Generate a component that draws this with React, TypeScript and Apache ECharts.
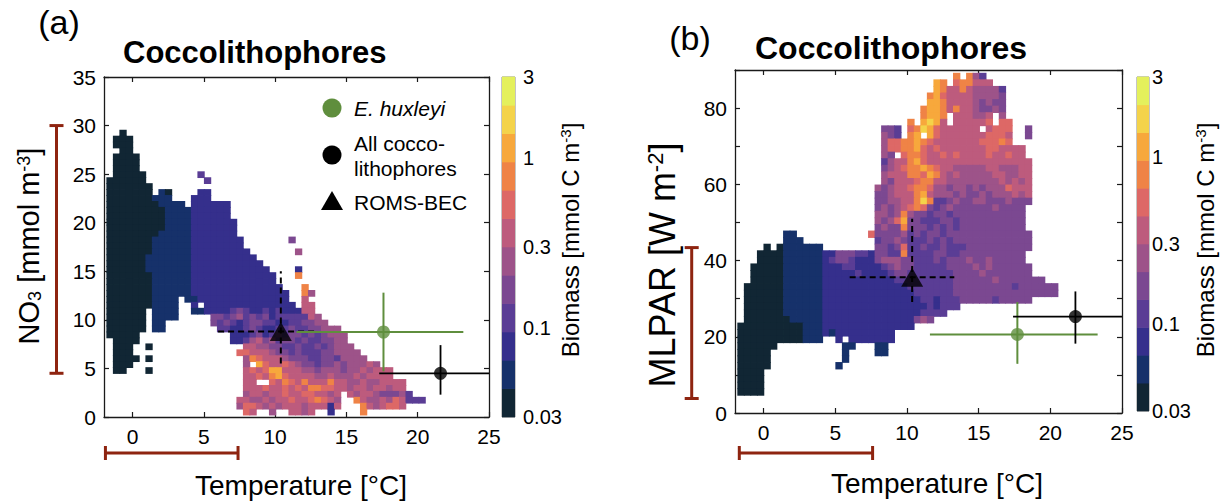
import React, { useEffect, useRef } from "react";
import * as echarts from "echarts";

// ---------- colour scale: 12 log-spaced biomass levels (0.03 – 3 mmol C m-3)
const LEVEL_COLORS = [
  "#112634", "#16316a", "#352f8c", "#5a3d95", "#7b4891", "#9d5389",
  "#bd5b7d", "#dd6866", "#ef8346", "#f7a83c", "#f4d34a", "#e4f05c",
];
const CB_TICKS = [0.03, 0.1, 0.3, 1, 3];
const CB_LEVELS = 12;
// cell character -> colour level
const CHAR_LEVEL: Record<string, number> = {
  "0": 0, "1": 1, "2": 2, "3": 3, "4": 4, "5": 5, "6": 6, "7": 6, "8": 7, "9": 8, a: 9, b: 10,
};

// ---------- axis ticks
const X_TICKS = [0, 5, 10, 15, 20, 25];
const B_Y_LABELS = [0, 20, 40, 60, 80];

// ---------- heat-map bins
const A_T0 = -1.805, A_DT = 0.456, A_N0 = 0.2, A_DN = 0.611;
const B_T0 = -1.81, B_DT = 0.456, B_P0 = 4.64, B_DP = 1.725;

// panel (a): [row, [[startColumn, cells]]]  ('.' = no data)
const A_ROWS: [number, [number, string][]][] = [
  [47, [[2, "0"]]],
  [46, [[1, "000"]]],
  [45, [[1, "000"]]],
  [44, [[2, "00"]]],
  [43, [[1, "0000"]]],
  [42, [[1, "0000"]]],
  [41, [[1, "0000"]]],
  [40, [[1, "00000"], [14, "3"]]],
  [39, [[0, "000000"], [15, "3"]]],
  [38, [[0, "0000000"]]],
  [37, [[0, "0000000"], [8, "10"], [14, "22"]]],
  [36, [[0, "0000000"], [7, "111"], [13, "222"]]],
  [35, [[0, "00000000"], [8, "1111"], [13, "222222"]]],
  [34, [[0, "000000000"], [9, "1111"], [13, "222222"]]],
  [33, [[0, "000000000"], [9, "1111"], [13, "222222"]]],
  [32, [[0, "000000000"], [9, "1111"], [13, "2222222"]]],
  [31, [[0, "000000000"], [9, "1111"], [13, "2222222"]]],
  [30, [[0, "00000000"], [8, "11111"], [13, "2222222"]]],
  [29, [[0, "0000000"], [7, "111111"], [13, "22222222"], [28, "4"]]],
  [28, [[0, "0000000"], [7, "111111"], [13, "22222222"]]],
  [27, [[0, "0000000"], [7, "111111"], [13, "222222222"], [29, "5"]]],
  [26, [[0, "000000"], [6, "1111111"], [13, "2222222222"]]],
  [25, [[0, "000000"], [6, "1111111"], [13, "22222222222"]]],
  [24, [[0, "000000"], [6, "1111111"], [13, "222222222222"], [29, "2"]]],
  [23, [[0, "0000000"], [7, "111111"], [13, "2222222222222"], [29, "9"]]],
  [22, [[0, "0000000"], [7, "111111"], [13, "2222222222222"]]],
  [21, [[0, "0000000"], [7, "111111"], [13, "22222222222222"], [30, "9"]]],
  [20, [[0, "0000000"], [7, "111111"], [13, "222222222222222"], [30, "95"]]],
  [19, [[0, "0000000"], [7, "1111"], [12, "11"], [14, "22222222222222"], [30, "7"]]],
  [18, [[0, "0000000"], [7, "1111"], [13, "2"], [15, "22222222222222"], [30, "77"]]],
  [17, [[0, "000000"], [7, "1111"], [13, "11"], [15, "2222"], [19, "34322323222"], [30, "77"]]],
  [16, [[0, "000000"], [7, "1111"], [16, "443"], [19, "4534342333336"], [32, "5"]]],
  [15, [[0, "000000"], [7, "11"], [16, "434"], [19, "323443322334455"]]],
  [14, [[0, "000000"], [7, "11"], [17, "3322343223343344555"]]],
  [13, [[0, "00000"], [19, "222342343443434555"]]],
  [12, [[1, "0000"], [19, "223564534434334455"]]],
  [11, [[1, "000"], [6, "0"], [21, "76554433433434555"]]],
  [10, [[1, "000"], [20, "8876654434333445555"]]],
  [9, [[1, "0000"], [6, "0"], [21, "5986765444334435555"]]],
  [8, [[1, "000"], [21, "5.a876865443445455565"]]],
  [7, [[1, "00"], [6, "0"], [21, "7878aa76755455545565666"]]],
  [6, [[21, "67879a87676556555656666"]]],
  [5, [[21, "76..879879676966556556666"]]],
  [4, [[21, "6778678687998876566566567"]]],
  [3, [[21, "566576876887756.6566544453"]]],
  [2, [[20, "7655657686789865..96556586333"]]],
  [1, [[20, "5886565676567626...9656886"]]],
  [0, [[21, "87..5..6656..2....9"]]],
];

// panel (b)
const B_ROWS: [number, [number, string][]][] = [
  [48, [[33, "9.953"]]],
  [47, [[30, "a9.899666"]]],
  [46, [[30, "a9769755553"]]],
  [45, [[29, "9a8676655554"]]],
  [44, [[29, "aa9677754544"]]],
  [43, [[28, "9aa9697654454"]]],
  [42, [[28, "9aa9.676556.5"]]],
  [41, [[26, "9.aba7.677668.88"]]],
  [40, [[22, "443.89ba8776776.7888"], [44, "4"]]],
  [39, [[22, "543.9a.a876667668887"], [44, "4"]]],
  [38, [[22, "58899a98776766788898"]]],
  [37, [[22, "58899a8787676676887766"]]],
  [36, [[22, "54.8998768786667877877"]]],
  [35, [[22, "35679a87767766667676766"]]],
  [34, [[22, "457899a9866555556655566"]]],
  [33, [[22, "5667998a965655555665566"]]],
  [32, [[22, "54677899665555555565656"]]],
  [31, [[21, "545678998554554545558666"]]],
  [30, [[21, "4456679a6555454454555657"]]],
  [29, [[21, "4455669b9334544554445444"]]],
  [28, [[21, "45456898434544444454444"]]],
  [27, [[21, "55459544344344444444444"]]],
  [26, [[21, "5458a443334434444444444"]]],
  [25, [[21, "45449444343434444444444"]]],
  [24, [[7, "11"], [20, "8444453434434444444444444"]]],
  [23, [[7, "111"], [21, "344543334343444444444444"]]],
  [22, [[4, "0.0111111"], [21, "443483343343334444444444"]]],
  [21, [[3, "0000111111"], [13, "2244433244339333344334444444444"]]],
  [20, [[3, "0000111111"], [13, "2344322245554433343444544544444"]]],
  [19, [[2, "00000111111"], [13, "22233222234544333334444545444444"]]],
  [18, [[2, "00000111111"], [13, "22222322223443333333444454444444"]]],
  [17, [[2, "00000111111"], [13, "2222222222233333333344444454444444"]]],
  [16, [[1, "000000111111"], [13, "222222222222233333334444444443444444"]]],
  [15, [[1, "000000111111"], [13, "222222222222223333334444444444444444"]]],
  [14, [[1, "000000111111"], [13, "22222222222222233233344444344444"]]],
  [13, [[1, "000000111111"], [13, "222222222222222232333"]]],
  [12, [[1, "000000111111"], [13, "2222222222222223333"]]],
  [11, [[1, "000000011111"], [13, "22222222222222454"]]],
  [10, [[0, "0000000000111"], [13, "22222222222222"]]],
  [9, [[0, "0000000000111"], [13, "21222222222"]]],
  [8, [[0, "0000000000111"], [15, "2.2222222"]]],
  [7, [[0, "000000"], [16, "11"], [21, "11"]]],
  [6, [[0, "00000"], [16, "1"], [21, "11"]]],
  [5, [[0, "00000"], [16, "1"]]],
  [4, [[0, "00000"], [15, "1"]]],
  [3, [[0, "0000"]]],
  [2, [[0, "0000"]]],
  [1, [[0, "0000"]]],
  [0, [[0, "0000"]]],
];

// ---------- observations & model (x, y, xLow, xHigh, yLow, yHigh)
const A_HUX = [17.6, 8.75, 11.5, 23.2, 4.7, 12.8];
const A_ALL = [21.6, 4.5, 17.3, 26, 2.3, 7.4];
const A_ROMS = [10.4, 8.8, 6.0, 12.9, 5.5, 15.0];
const B_HUX = [17.7, 20.6, 11.6, 23.3, 12.9, 29.1];
const B_ALL = [21.75, 25.3, 17.4, 26, 18.2, 31.9];
const B_ROMS = [10.36, 35.6, 6.0, 13.3, 29.1, 51.0];

// ---------- range bars beside the axes
const A_T_RANGE = [-1.9, 7.4];
const A_N_RANGE = [4.5, 30];
const B_T_RANGE = [-1.7, 7.6];
const B_P_RANGE = [3.8, 43.4];

// ---------- styles
const FONT = '"Liberation Sans", Arial, Helvetica, sans-serif';
const GREEN = "#5f8e3d";
const BROWN = "#8e2410";
const AXIS_COLOR = "#1a1a1a";

function buildCells(rows: [number, [number, string][]][], t0: number, dt: number, y0: number, dy: number) {
  const out: number[][] = [];
  for (const [r, segs] of rows) {
    for (const [c, s] of segs) {
      for (let i = 0; i < s.length; i++) {
        const ch = s[i];
        if (ch === ".") continue;
        out.push([t0 + (c + i) * dt, y0 + r * dy, CHAR_LEVEL[ch]]);
      }
    }
  }
  return out;
}

const heatRender = (dt: number, dy: number) => (_p: any, api: any) => {
  const x = api.value(0), y = api.value(1), lv = api.value(2);
  const p0 = api.coord([x, y + dy]);
  const p1 = api.coord([x + dt, y]);
  const c = LEVEL_COLORS[lv];
  // slight overlap so neighbouring cells leave no hairline seams
  return {
    type: "rect",
    shape: { x: p0[0] - 0.4, y: p0[1] - 0.4, width: p1[0] - p0[0] + 0.8, height: p1[1] - p0[1] + 0.8 },
    style: { fill: c },
  };
};

const errRender = (color: string, width: number, dash?: number[]) => (_p: any, api: any) => {
  const x = api.value(0), y = api.value(1);
  const a = api.coord([api.value(2), y]);
  const b = api.coord([api.value(3), y]);
  const c = api.coord([x, api.value(4)]);
  const d = api.coord([x, api.value(5)]);
  const style: any = { stroke: color, lineWidth: width };
  if (dash) style.lineDash = dash;
  return {
    type: "group",
    children: [
      { type: "line", shape: { x1: a[0], y1: a[1], x2: b[0], y2: b[1] }, style },
      { type: "line", shape: { x1: c[0], y1: c[1], x2: d[0], y2: d[1] }, style: { ...style } },
    ],
  };
};

const hRangeRender = (yAt: number, offset: number) => (_p: any, api: any) => {
  const a = api.coord([api.value(0), yAt]);
  const b = api.coord([api.value(1), yAt]);
  const y = a[1] + offset;
  const st = { stroke: BROWN, lineWidth: 3 };
  return {
    type: "group",
    children: [
      { type: "line", shape: { x1: a[0], y1: y, x2: b[0], y2: y }, style: st },
      { type: "line", shape: { x1: a[0], y1: y - 7, x2: a[0], y2: y + 7 }, style: st },
      { type: "line", shape: { x1: b[0], y1: y - 7, x2: b[0], y2: y + 7 }, style: st },
    ],
  };
};

const vRangeRender = (xAt: number, offset: number) => (_p: any, api: any) => {
  const a = api.coord([xAt, api.value(0)]);
  const b = api.coord([xAt, api.value(1)]);
  const x = a[0] - offset;
  const st = { stroke: BROWN, lineWidth: 3 };
  return {
    type: "group",
    children: [
      { type: "line", shape: { x1: x, y1: a[1], x2: x, y2: b[1] }, style: st },
      { type: "line", shape: { x1: x - 7, y1: a[1], x2: x + 7, y2: a[1] }, style: st },
      { type: "line", shape: { x1: x - 7, y1: b[1], x2: x + 7, y2: b[1] }, style: st },
    ],
  };
};

const cbRender = (_p: any, api: any) => {
  const i = api.value(0);
  const p0 = api.coord([0, i + 1]);
  const p1 = api.coord([1, i]);
  const c = LEVEL_COLORS[i];
  return {
    type: "rect",
    shape: { x: p0[0], y: p0[1] - 0.3, width: p1[0] - p0[0], height: p1[1] - p0[1] + 0.6 },
    style: { fill: c },
  };
};

const CB_POS = CB_TICKS.map((v) => (CB_LEVELS * Math.log10(v / CB_TICKS[0])) / Math.log10(CB_TICKS[CB_TICKS.length - 1] / CB_TICKS[0]));
const cbFormatter = (v: number) => {
  const i = CB_POS.findIndex((p) => Math.abs(p - v) < 1e-6);
  return i >= 0 ? String(CB_TICKS[i]) : "";
};

function mainXAxis(gridIndex: number, top: boolean) {
  return {
    type: "value", gridIndex, min: -2, max: 25, position: top ? "top" : "bottom",
    axisLine: { show: true, onZero: false, lineStyle: { color: AXIS_COLOR, width: 1.3 } },
    axisTick: { show: true, inside: true, length: 5, customValues: X_TICKS, lineStyle: { color: AXIS_COLOR, width: 1.2 } },
    axisLabel: top ? { show: false } : { show: true, customValues: X_TICKS, fontSize: 21, color: "#000", fontFamily: FONT, margin: 9 },
    splitLine: { show: false },
  };
}
function mainYAxis(gridIndex: number, right: boolean, max: number, interval: number, labels?: number[]) {
  const lab: any = right ? { show: false } : { show: true, fontSize: 21, color: "#000", fontFamily: FONT, margin: 8 };
  if (!right && labels) lab.customValues = labels;
  return {
    type: "value", gridIndex, min: 0, max, interval, position: right ? "right" : "left",
    axisLine: { show: true, onZero: false, lineStyle: { color: AXIS_COLOR, width: 1.3 } },
    axisTick: { show: true, inside: true, length: 5, lineStyle: { color: AXIS_COLOR, width: 1.2 } },
    axisLabel: lab,
    splitLine: { show: false },
  };
}
function cbYAxis(gridIndex: number, margin: number) {
  return {
    type: "value", gridIndex, min: 0, max: CB_LEVELS, position: "right",
    axisLine: { show: false }, axisTick: { show: false }, splitLine: { show: false },
    axisLabel: { show: true, customValues: CB_POS, formatter: cbFormatter, fontSize: 20, color: "#000", fontFamily: FONT, margin },
  };
}

function txt(x: number, y: number, text: string, fontSize: number, extra: any = {}) {
  return {
    type: "text", x, y, z: 10,
    style: { text, fontSize, fontFamily: FONT, fill: "#000", align: "left", verticalAlign: "middle", ...extra },
  };
}
function rotTxt(x: number, y: number, text: string, fontSize: number, supSize: number) {
  return {
    type: "text", x, y, rotation: Math.PI / 2, z: 10,
    style: {
      text, fontFamily: FONT, fill: "#000", align: "center", verticalAlign: "middle",
      rich: {
        n: { fontSize, fontFamily: FONT, fill: "#000" },
        s: { fontSize: supSize, fontFamily: FONT, fill: "#000", verticalAlign: "bottom" },
        p: { fontSize: supSize, fontFamily: FONT, fill: "#000", verticalAlign: "top" },
      },
    },
  };
}

function buildOption() {
  const aCells = buildCells(A_ROWS, A_T0, A_DT, A_N0, A_DN);
  const bCells = buildCells(B_ROWS, B_T0, B_DT, B_P0, B_DP);
  const cbData = LEVEL_COLORS.map((_c, i) => [i]);

  return {
    animation: false,
    grid: [
      { left: 104, top: 77, width: 385, height: 340 },
      { left: 735, top: 70, width: 387, height: 343 },
      { left: 502, top: 77, width: 13, height: 340, show: true, borderColor: "#8a8a8a", borderWidth: 1 },
      { left: 1137, top: 77, width: 12, height: 334, show: true, borderColor: "#8a8a8a", borderWidth: 1 },
    ],
    xAxis: [
      mainXAxis(0, false), mainXAxis(0, true), mainXAxis(1, false), mainXAxis(1, true),
      { type: "value", gridIndex: 2, min: 0, max: 1, show: false },
      { type: "value", gridIndex: 3, min: 0, max: 1, show: false },
    ],
    yAxis: [
      mainYAxis(0, false, 35, 5), mainYAxis(0, true, 35, 5),
      mainYAxis(1, false, 90, 10, B_Y_LABELS), mainYAxis(1, true, 90, 10),
      cbYAxis(2, 8), cbYAxis(3, 3),
    ],
    series: [
      { type: "custom", name: "heat a", xAxisIndex: 0, yAxisIndex: 0, data: aCells, renderItem: heatRender(A_DT, A_DN), encode: { x: 0, y: 1 }, clip: true, z: 1, silent: true },
      { type: "custom", name: "heat b", xAxisIndex: 2, yAxisIndex: 2, data: bCells, renderItem: heatRender(B_DT, B_DP), encode: { x: 0, y: 1 }, clip: true, z: 1, silent: true },
      { type: "custom", name: "cb a", xAxisIndex: 4, yAxisIndex: 4, data: cbData, renderItem: cbRender, z: 1, silent: true },
      { type: "custom", name: "cb b", xAxisIndex: 5, yAxisIndex: 5, data: cbData, renderItem: cbRender, z: 1, silent: true },
      // error bars / crosshairs
      { type: "custom", xAxisIndex: 0, yAxisIndex: 0, data: [A_ROMS], renderItem: errRender("#000", 2, [6, 4]), clip: true, z: 3 },
      { type: "custom", xAxisIndex: 0, yAxisIndex: 0, data: [A_HUX], renderItem: errRender(GREEN, 2), clip: true, z: 3 },
      { type: "custom", xAxisIndex: 0, yAxisIndex: 0, data: [A_ALL], renderItem: errRender("#000", 1.8), clip: true, z: 3 },
      { type: "custom", xAxisIndex: 2, yAxisIndex: 2, data: [B_ROMS], renderItem: errRender("#000", 2, [6, 4]), clip: true, z: 3 },
      { type: "custom", xAxisIndex: 2, yAxisIndex: 2, data: [B_HUX], renderItem: errRender(GREEN, 2), clip: true, z: 3 },
      { type: "custom", xAxisIndex: 2, yAxisIndex: 2, data: [B_ALL], renderItem: errRender("#000", 1.8), clip: true, z: 3 },
      // markers
      { type: "scatter", name: "E. huxleyi", xAxisIndex: 0, yAxisIndex: 0, data: [A_HUX.slice(0, 2)], symbol: "circle", symbolSize: 13, itemStyle: { color: GREEN }, z: 5 },
      { type: "scatter", name: "All coccolithophores", xAxisIndex: 0, yAxisIndex: 0, data: [A_ALL.slice(0, 2)], symbol: "circle", symbolSize: 13, itemStyle: { color: "#000" }, z: 5 },
      { type: "scatter", name: "ROMS-BEC", xAxisIndex: 0, yAxisIndex: 0, data: [A_ROMS.slice(0, 2)], symbol: "triangle", symbolSize: [22, 19], itemStyle: { color: "#000" }, z: 5 },
      { type: "scatter", xAxisIndex: 2, yAxisIndex: 2, data: [B_HUX.slice(0, 2)], symbol: "circle", symbolSize: 13, itemStyle: { color: GREEN }, z: 5 },
      { type: "scatter", xAxisIndex: 2, yAxisIndex: 2, data: [B_ALL.slice(0, 2)], symbol: "circle", symbolSize: 13, itemStyle: { color: "#000" }, z: 5 },
      { type: "scatter", xAxisIndex: 2, yAxisIndex: 2, data: [B_ROMS.slice(0, 2)], symbol: "triangle", symbolSize: [22, 19], itemStyle: { color: "#000" }, z: 5 },
      // range bars outside the axes
      { type: "custom", xAxisIndex: 0, yAxisIndex: 0, data: [A_T_RANGE], renderItem: hRangeRender(0, 36), clip: false, z: 3, silent: true },
      { type: "custom", xAxisIndex: 0, yAxisIndex: 0, data: [A_N_RANGE], renderItem: vRangeRender(-2, 47.5), clip: false, z: 3, silent: true },
      { type: "custom", xAxisIndex: 2, yAxisIndex: 2, data: [B_T_RANGE], renderItem: hRangeRender(0, 40), clip: false, z: 3, silent: true },
      { type: "custom", xAxisIndex: 2, yAxisIndex: 2, data: [B_P_RANGE], renderItem: vRangeRender(-2, 43.3), clip: false, z: 3, silent: true },
    ],
    graphic: [
      txt(59, 22, "(a)", 34, { align: "center" }),
      txt(690, 38, "(b)", 34, { align: "center" }),
      txt(123, 52, "Coccolithophores", 31, { fontWeight: "bold" }),
      txt(755, 48, "Coccolithophores", 32, { fontWeight: "bold" }),
      txt(301, 485, "Temperature [°C]", 28, { align: "center" }),
      txt(937, 483, "Temperature [°C]", 28, { align: "center" }),
      rotTxt(29, 246, "{n|NO}{s|3}{n| [mmol m}{p|-3}{n|]}", 29, 18),
      rotTxt(662, 265, "{n|MLPAR [W m}{p|-2}{n|]}", 36, 22),
      rotTxt(570, 240, "{n|Biomass [mmol C m}{p|-3}{n|]}", 24, 15),
      rotTxt(1205, 240, "{n|Biomass [mmol C m}{p|-3}{n|]}", 24, 15),
      // legend
      { type: "circle", shape: { cx: 332, cy: 108, r: 9.5 }, style: { fill: GREEN }, z: 10 },
      txt(354, 108, "E. huxleyi", 21, { fontStyle: "italic" }),
      { type: "circle", shape: { cx: 332, cy: 155, r: 9.5 }, style: { fill: "#000" }, z: 10 },
      txt(354, 155.5, "All cocco-\nlithophores", 21, { lineHeight: 25 }),
      { type: "polygon", shape: { points: [[321, 210], [343, 210], [332, 191]] }, style: { fill: "#000" }, z: 10 },
      txt(354, 202, "ROMS-BEC", 21),
    ],
  };
}

export default function App() {
  const ref = useRef<HTMLDivElement>(null);
  useEffect(() => {
    document.body.style.margin = "0";
    const chart = echarts.init(ref.current as HTMLDivElement, null, { renderer: "svg" });
    chart.setOption(buildOption() as any);
    return () => chart.dispose();
  }, []);
  return <div ref={ref} style={{ width: 1222, height: 502 }} />;
}
